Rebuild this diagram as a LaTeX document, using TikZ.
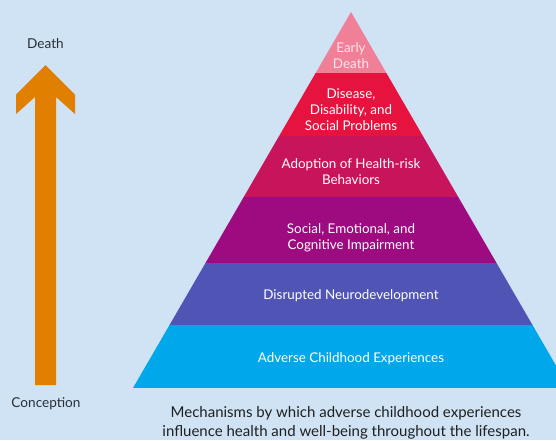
\documentclass[tikz,border=0pt]{standalone}
\usepackage{fontspec}
\setmainfont{Lato}
\usetikzlibrary{positioning}

\definecolor{bgblue}{HTML}{CFE3F4}
\definecolor{lifeorange}{HTML}{E07F00}
\definecolor{earlycol}{HTML}{EF8098}
\definecolor{diseasecol}{HTML}{E6133F}
\definecolor{adoptcol}{HTML}{C8145A}
\definecolor{impaircol}{HTML}{9E0B80}
\definecolor{neurocol}{HTML}{4F54B5}
\definecolor{acecol}{HTML}{00A7EA}
\definecolor{inktext}{HTML}{2A2F36}

\tikzset{
  level/.style={text=white, align=center, inner sep=0pt,
    font=\fontsize{13.4}{15.8}\selectfont},
  timelabel/.style={text=inktext, inner sep=0pt, font=\fontsize{13.6}{15}\selectfont},
}

\begin{document}
\begin{tikzpicture}[x=1pt,y=-1pt]
\useasboundingbox (0,0) rectangle (556,440);
\fill[bgblue] (0,0) rectangle (556,440);

% pyramid
\coordinate (apex) at (351,12);
\coordinate (baseL) at (133,388);
\coordinate (baseR) at (569,388);
\begin{scope}
\clip (apex) -- (baseL) -- (baseR) -- cycle;
\foreach \ytop/\ybot/\col in {12/73/earlycol, 73/136/diseasecol, 136/197/adoptcol,
  197/263/impaircol, 263/325/neurocol, 325/388/acecol}
  \fill[\col] (120,\ytop) rectangle (580,\ybot);
\end{scope}

\node[level, text=earlycol!20] (early) at (351,56) {Early\\Death};
\node[level] (disease) at (351,109.5) {Disease,\\Disability, and\\Social Problems};
\node[level] (adopt) at (351,172) {Adoption of Health-risk\\Behaviors};
\node[level] (impair) at (351,237.5) {Social, Emotional, and\\Cognitive Impairment};
\node[level] (neuro) at (351,295.5) {Disrupted Neurodevelopment};
\node[level] (ace) at (351,358.5) {Adverse Childhood Experiences};

% lifespan arrow
\node[timelabel] (death) at (45.5,44) {Death};
\node[timelabel] (conception) at (46,404) {Conception};
\fill[lifeorange] (45.5,65) -- (16,94.5) -- (16,114) -- (35,97) -- (35,385)
  -- (56,385) -- (56,97) -- (75,114) -- (75,94.5) -- cycle;

\node[text=black!88, align=center, inner sep=0pt,
  font=\fontsize{15}{19}\selectfont] (caption) at (346,423)
  {Mechanisms by which adverse childhood experiences\\influence health and well-being throughout the lifespan.};
\end{tikzpicture}
\end{document}
